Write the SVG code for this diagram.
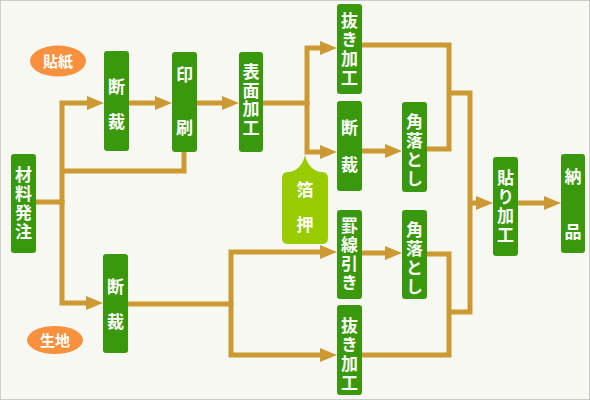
<svg xmlns="http://www.w3.org/2000/svg" width="590" height="400" viewBox="0 0 590 400">
<style>
.n{fill:#3a980c}
.t{fill:#fff;font-family:"Noto Sans CJK JP",sans-serif;font-size:17px;font-weight:bold;writing-mode:vertical-rl;text-orientation:upright;letter-spacing:2px}
.w{letter-spacing:18px}
.o{fill:#f7913d}
.ot{fill:#fff;font-family:"Noto Sans CJK JP",sans-serif;font-size:15px;font-weight:bold;text-anchor:middle}
.c path{fill:none;stroke:#cc9933;stroke-width:5;stroke-linejoin:miter}
.a{marker-end:url(#ah)}
</style>
<defs>
<marker id="ah" markerUnits="userSpaceOnUse" markerWidth="18" markerHeight="15" refX="0" refY="7" orient="auto" viewBox="0 0 18 14">
<path d="M0,0 L17,7 L0,14 Z" fill="#cc9933"/>
</marker>
</defs>
<rect x="0.5" y="0.5" width="589" height="399" fill="#f8f8f3" stroke="#cccccc"/>
<g id="connectors" class="c">
<path d="M35,202 H62"/>
<path class="a" d="M62,204 V103 H87"/>
<path class="a" d="M62,200 V303 H86"/>
<path d="M184,151 V171 H62"/>
<path class="a" d="M129,103 H155"/>
<path class="a" d="M197,103 H222"/>
<path d="M263,103 H307"/>
<path class="a" d="M307,105 V48 H320"/>
<path class="a" d="M307,101 V152 H320"/>
<path class="a" d="M362,151 H385"/>
<path d="M362,45 H449 V149 H427"/>
<path d="M449,93 H470 V312 H449"/>
<path d="M427,254 H449 V355 H362"/>
<path class="a" d="M470,203 H476"/>
<path class="a" d="M518,203 H544"/>
<path d="M128,304 H231"/>
<path class="a" d="M231,306 V252 H320"/>
<path class="a" d="M231,302 V355 H320"/>
<path class="a" d="M362,253 H385"/>
</g>
<g id="label-haritsu"><ellipse class="o" cx="58" cy="61" rx="28" ry="15.5"/><text class="ot" x="58" y="66.5">貼紙</text></g>
<g id="label-kiji"><ellipse class="o" cx="55" cy="340" rx="28" ry="14"/><text class="ot" x="55" y="345.5">生地</text></g>
<g id="zairyo"><rect class="n" x="11" y="154" width="25" height="99" rx="3"/>
<text class="t" x="23.5" y="166.5">材料発注</text></g>
<g id="dansai1"><rect class="n" x="104" y="51" width="25" height="100" rx="3"/>
<text class="t w" x="116.5" y="78.5">断裁</text></g>
<g id="insatsu"><rect class="n" x="172" y="52" width="25" height="100" rx="3"/>
<text class="t" x="184.5" y="66.5" style="letter-spacing:36px">印刷</text></g>
<g id="hyomen"><rect class="n" x="239" y="52" width="24" height="100" rx="3"/>
<text class="t" x="251" y="63.5" style="letter-spacing:1.5px">表面加工</text></g>
<g id="nuki1"><rect class="n" x="337" y="4" width="25" height="90" rx="3"/>
<text class="t" x="349.5" y="12.5">抜き加工</text></g>
<g id="dansai2"><rect class="n" x="337" y="101" width="25" height="90" rx="3"/>
<text class="t" x="349.5" y="119.5" style="letter-spacing:20px">断裁</text></g>
<g id="kado1"><rect class="n" x="402" y="102" width="25" height="90" rx="3"/>
<text class="t" x="414.5" y="113.5">角落とし</text></g>
<g id="hakuoshi"><path d="M288,172 C296,172 303,165 305,155 C307,165 314,172 322,172 Q328,172 328,178 V238 Q328,244 322,244 H288 Q282,244 282,238 V178 Q282,172 288,172 Z" fill="#99cc00"/>
<text class="t w" x="305" y="181.5">箔押</text></g>
<g id="keisen"><rect class="n" x="337" y="210" width="25" height="89" rx="3"/>
<text class="t" x="349.5" y="217.5">罫線引き</text></g>
<g id="kado2"><rect class="n" x="402" y="210" width="25" height="89" rx="3"/>
<text class="t" x="414.5" y="221.5" style="letter-spacing:1.7px">角落とし</text></g>
<g id="nuki2"><rect class="n" x="337" y="305" width="25" height="90" rx="3"/>
<text class="t" x="349.5" y="317.5" style="letter-spacing:1.7px">抜き加工</text></g>
<g id="dansai3"><rect class="n" x="103" y="254" width="25" height="99" rx="3"/>
<text class="t w" x="115.5" y="278.5">断裁</text></g>
<g id="hari"><rect class="n" x="493" y="157" width="25" height="99" rx="3"/>
<text class="t" x="505.5" y="169.5">貼り加工</text></g>
<g id="nohin"><rect class="n" x="561" y="154" width="24" height="99" rx="3"/>
<text class="t" x="573" y="168.5" style="letter-spacing:38px">納品</text></g>
</svg>
